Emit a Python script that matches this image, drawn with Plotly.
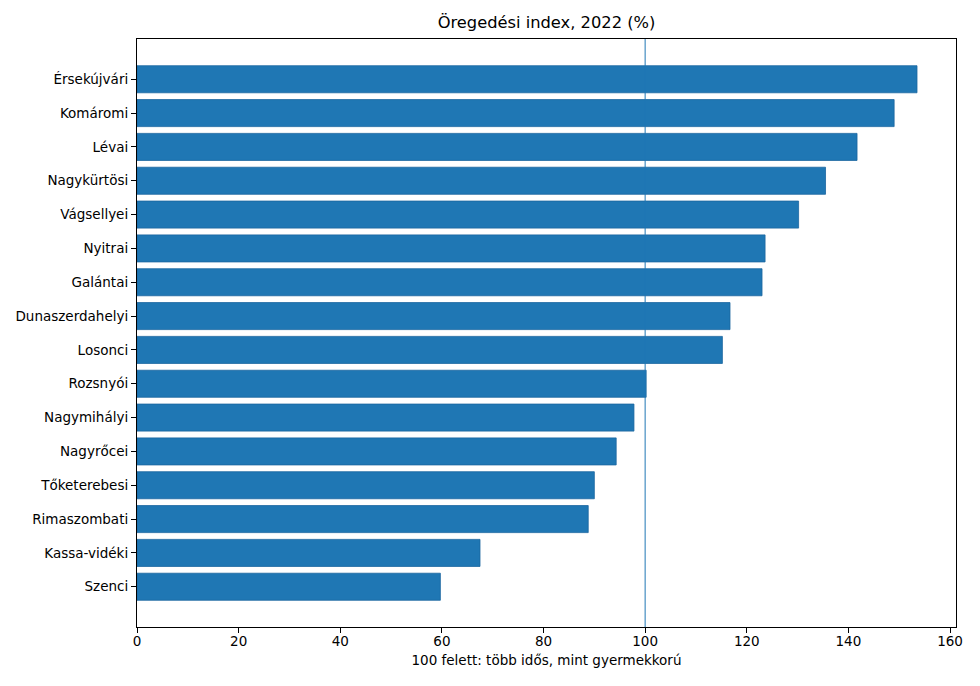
import plotly.graph_objects as go

categories = ["Érsekújvári", "Komáromi", "Lévai", "Nagykürtösi", "Vágsellyei",
              "Nyitrai", "Galántai", "Dunaszerdahelyi", "Losonci", "Rozsnyói",
              "Nagymihályi", "Nagyrőcei", "Tőketerebesi", "Rimaszombati",
              "Kassa-vidéki", "Szenci"]
values = [153.5, 149.0, 141.7, 135.5, 130.2, 123.6, 123.0, 116.7, 115.2, 100.2,
          97.8, 94.3, 90.0, 88.8, 67.5, 59.7]
ref_value = 100
x_ticks = [0, 20, 40, 60, 80, 100, 120, 140, 160]

cats_plot = categories[::-1]
vals_plot = values[::-1]
n = len(cats_plot)

fig = go.Figure()
fig.add_trace(go.Bar(
    x=vals_plot, y=list(range(n)), orientation="h", width=0.8,
    marker=dict(color="#1f77b4", line=dict(color="#1a66a0", width=0.8)),
    hoverinfo="x+text", text=cats_plot, textposition="none",
))
fig.add_shape(type="line", x0=ref_value, x1=ref_value, y0=0, y1=1, yref="paper",
              xref="x", line=dict(color="#1f77b4", width=1))

font_family = "DejaVu Sans"
W, H = 980, 686
ml, mr, mt, mb = 129, 32, 31, 67
fig.update_layout(
    width=W, height=H,
    margin=dict(l=ml, r=mr, t=mt, b=mb),
    paper_bgcolor="white", plot_bgcolor="white",
    font=dict(family=font_family, size=13.5, color="black"),
    title=dict(text="Öregedési index, 2022 (%)",
               x=(ml + (W - mr)) / 2 / W, xanchor="center",
               y=1 - 14 / H, yanchor="middle", font=dict(size=16.3, family=font_family)),
    showlegend=False,
    bargap=0.2,
)
fig.update_xaxes(
    range=[0, max(values) * 1.05], tickvals=x_ticks, ticktext=[str(t) for t in x_ticks],
    showgrid=False, zeroline=False, showline=True, linecolor="black", linewidth=1.2,
    mirror=True, ticks="outside", ticklen=5, tickcolor="black", tickwidth=1,
    ticklabelstandoff=-3, automargin=False,
    title=dict(text="100 felett: több idős, mint gyermekkorú", font=dict(size=13.5), standoff=7),
    tickfont=dict(size=13.5),
)
fig.update_yaxes(
    range=[-1.19, n - 1 + 1.19], tickvals=list(range(n)), ticktext=cats_plot,
    showgrid=False, zeroline=False, showline=True, linecolor="black", linewidth=1.2,
    mirror=True, ticks="outside", ticklen=5, tickcolor="black", tickwidth=1,
    automargin=False,
    tickfont=dict(size=13.5),
)

fig.write_html("out.html")
